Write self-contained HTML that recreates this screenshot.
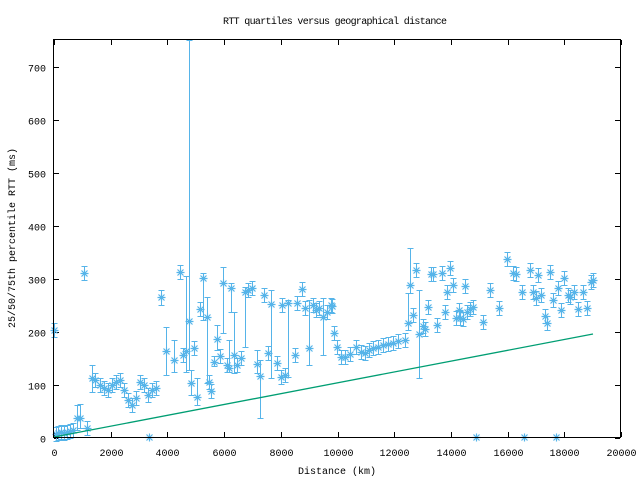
<!DOCTYPE html>
<html><head><meta charset="utf-8"><style>
html,body{margin:0;padding:0;background:#fff}
text{font-family:"Liberation Mono",monospace;font-size:10px;fill:#000}
</style></head><body>
<svg id="s" width="640" height="480" xmlns="http://www.w3.org/2000/svg">
<rect width="640" height="480" fill="#fff"/>
<text x="335" y="24" text-anchor="middle" textLength="224">RTT quartiles versus geographical distance</text>
<text x="337" y="474" text-anchor="middle">Distance (km)</text>
<text transform="translate(15,238) rotate(-90)" text-anchor="middle">25/50/75th percentile RTT (ms)</text>
<g id="ax" shape-rendering="crispEdges"></g>
<g id="d" stroke="#56b4e9" stroke-width="1.2" fill="none" shape-rendering="crispEdges"></g>
<polyline points="54,437 593,334" stroke="#009e73" stroke-width="1.3" fill="none"/>
<rect x="53.5" y="39.5" width="567" height="398" fill="none" stroke="#000" shape-rendering="crispEdges"/>
</svg>
<script>
var ax=document.getElementById('ax'),h='';
function X(v){return 54+v*567/20000}
function Y(v){return 438-v*0.5307}
for(var i=0;i<=10;i++){var x=Math.round(X(i*2000))+0.5;h+='<line x1="'+x+'" y1="437" x2="'+x+'" y2="432" stroke="#000"/><line x1="'+x+'" y1="40" x2="'+x+'" y2="45" stroke="#000"/><text x="'+x+'" y="456" text-anchor="middle">'+(i*2000)+'</text>';}
for(var i=0;i<=7;i++){var y=Math.round(Y(i*100))+0.5;h+='<line x1="54" y1="'+y+'" x2="59" y2="'+y+'" stroke="#000"/><line x1="620" y1="'+y+'" x2="615" y2="'+y+'" stroke="#000"/><text x="46" y="'+(y+4)+'" text-anchor="end">'+(i*100)+'</text>';}
ax.innerHTML=h;
var P=[[54,330],[56,434],[58,433],[61,432],[64,433],[67,432],[70,431],[73,430],[77,418,405,430],[80,418,404,428],[84,273],[87,428],[92,378,365,392],[95,380],[100,385],[104,388],[108,390],[112,385],[116,382],[120,380],[124,390],[128,400],[132,405],[136,398],[140,382],[144,385],[148,395],[152,390],[156,388],[149,437],[161,297,290,305],[166,351,327,375],[174,360,340,372],[180,272],[183,355],[186,351,276,372],[189,321,40,370],[191,383,370,395],[194,348],[197,397,378,405],[200,309],[203,278,273,320],[207,317,297,383],[209,382],[211,391],[214,362,356,366],[217,339,325,350],[220,356],[223,283,267,333],[227,365],[229,368,340,372],[231,288,283,312],[234,355,312,373],[237,365],[241,358],[245,292,287,347],[248,290],[252,288],[257,364,350,373],[260,376,360,418],[264,295],[268,353],[271,304,290,378],[277,363],[281,377],[285,375],[282,305],[288,303,300,377],[295,355],[297,303],[302,289],[305,308],[309,348,300,365],[313,305],[316,310],[319,308],[323,317,298,355],[327,312],[331,305],[332,306],[334,333],[337,347],[341,357],[345,357],[350,354],[356,347],[361,352],[365,353],[369,350],[373,348],[378,347],[383,345],[388,344],[393,343],[398,341],[405,340],[408,323,293,330],[410,285,248,293],[413,315],[416,270],[419,334,290,378],[423,326],[425,329],[428,307],[431,274],[433,274],[437,325],[442,273],[445,312],[447,292],[450,268],[453,285],[456,318],[460,318],[463,319],[459,310],[465,286],[467,312],[470,309],[473,307],[483,322],[490,290],[499,308],[507,259],[513,273],[516,274],[522,292],[530,270],[533,292],[536,298],[538,275],[541,295],[545,316],[547,323],[550,272],[553,300],[558,288],[561,310],[564,278],[568,295],[570,297],[574,292],[578,309],[583,292],[587,308],[591,282],[593,280],[476,437],[524,437],[556,437]];
var d='';
P.forEach(function(p){var x=p[0]+0.5,y=p[1]+0.5;
 if(y<437){var lo=(p[2]||p[1]-7)+0.5,hi=(p[3]||p[1]+7)+0.5;
 d+='<line x1="'+x+'" y1="'+lo+'" x2="'+x+'" y2="'+hi+'"/><line x1="'+(x-3)+'" y1="'+lo+'" x2="'+(x+3)+'" y2="'+lo+'"/><line x1="'+(x-3)+'" y1="'+hi+'" x2="'+(x+3)+'" y2="'+hi+'"/>';}
 d+='<path shape-rendering="auto" d="M'+(x-4)+' '+y+'h8M'+x+' '+(y-4)+'v8M'+(x-3)+' '+(y-3)+'l6 6M'+(x-3)+' '+(y+3)+'l6 -6"/>';});
document.getElementById('d').innerHTML=d;
</script>
</body></html>
